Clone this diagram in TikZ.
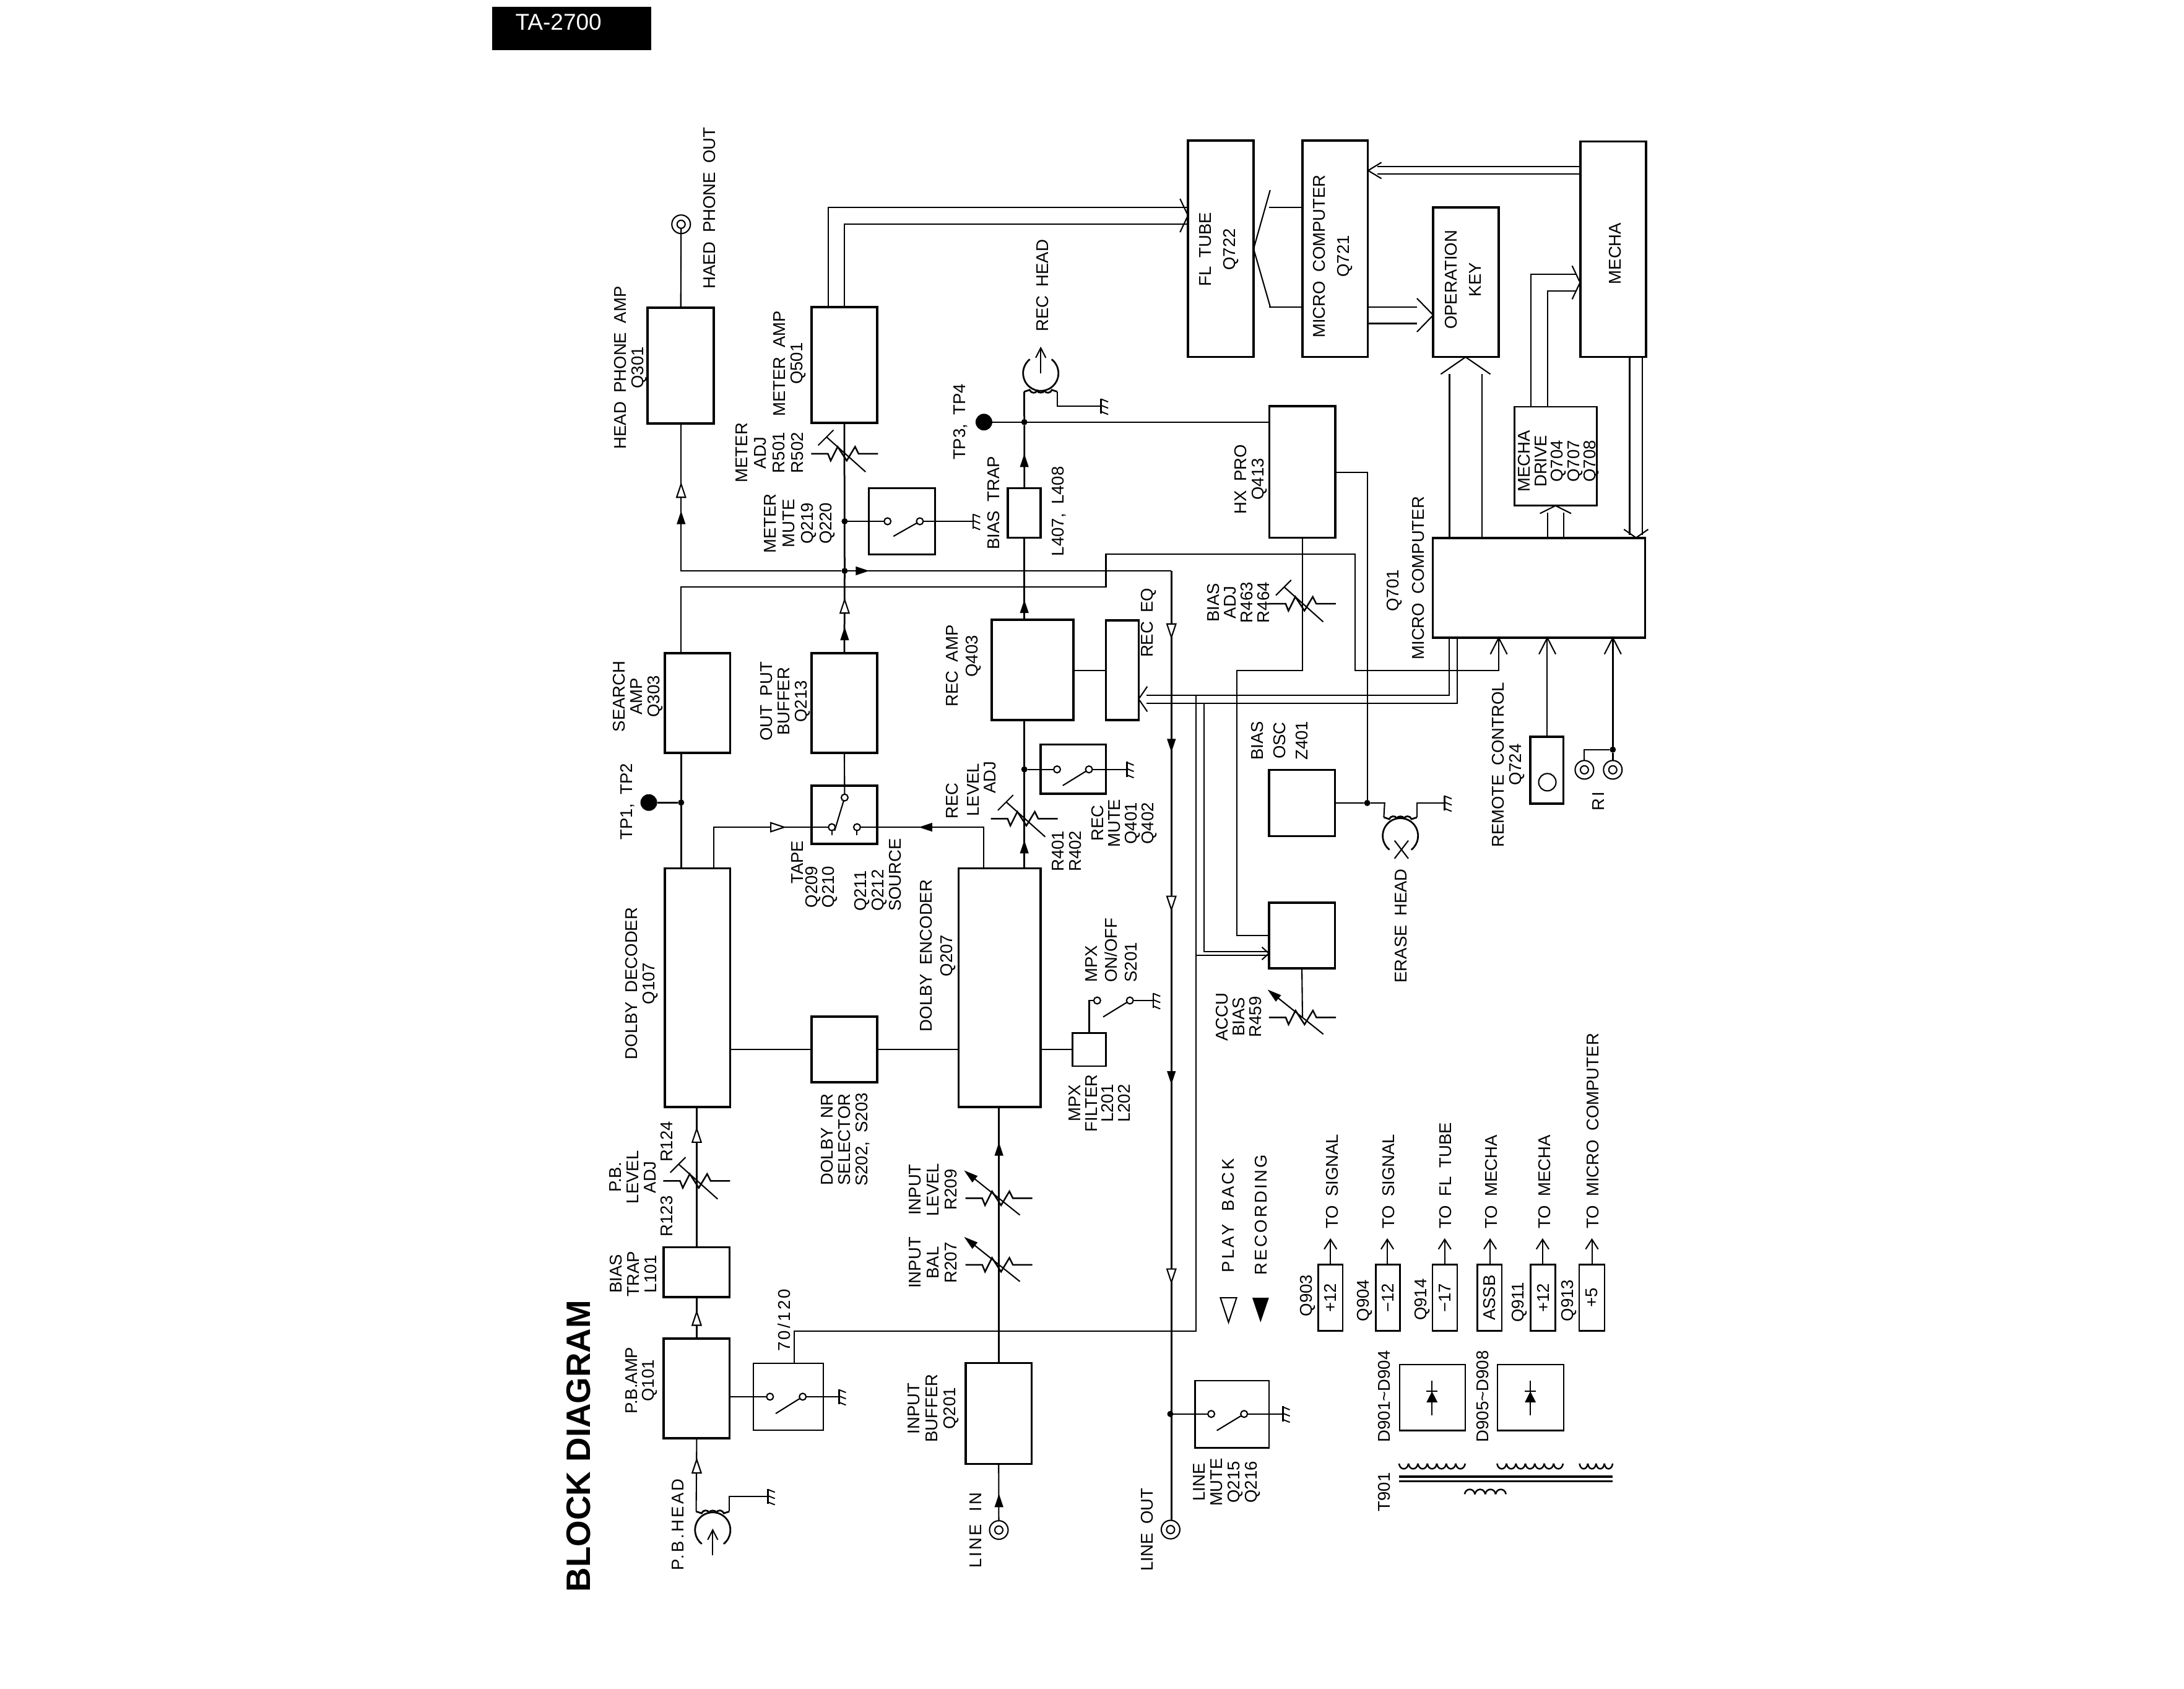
\documentclass[tikz,border=0pt]{standalone}
\usepackage{fontspec}
\setmainfont[WordSpace=1.9]{Liberation Sans}
\newfontfamily\spacedfont[LetterSpace=12,WordSpace=1.9]{Liberation Sans}
\newfontfamily\titlefont{Liberation Sans}
\usetikzlibrary{fit,calc}

% Drawing unit: the sheet is 1568 x 1212 units, y grows downward.
\tikzset{
  wire/.style={line width=0.42pt,line join=miter},
  heavy/.style={line width=0.55pt},
  block/.style={draw,line width=0.72pt,inner sep=0pt,outer sep=0pt},
  thinblock/.style={draw,line width=0.45pt,inner sep=0pt,outer sep=0pt},
  midblock/.style={draw,line width=0.55pt,inner sep=0pt,outer sep=0pt},
  dot/.style={circle,fill=black,inner sep=0pt,minimum size=2pt,outer sep=0pt},
  blob/.style={circle,fill=black,inner sep=0pt,minimum size=5.4pt,outer sep=0pt},
  contact/.style={circle,draw,fill=white,line width=0.42pt,inner sep=0pt,minimum size=2.2pt,outer sep=0pt},
  jackout/.style={circle,draw,line width=0.42pt,inner sep=0pt,minimum size=6pt,outer sep=0pt},
  jackin/.style={circle,draw,line width=0.42pt,inner sep=0pt,minimum size=2.6pt,outer sep=0pt},
  gnd/.pic={
    \draw[line width=0.55pt] (0,-5.5) -- (0,5.5);
    \draw[line width=0.38pt] (0,-5) -- (5,-3) (0,-0.5) -- (5,1.5) (0,4) -- (5,6);
  },
  rtrim/.pic={
    \draw[line width=0.5pt] (-24,0) -- (-12,0) -- (-10,5) -- (-5,-5) -- (1.5,5) -- (7.5,-5) -- (10,0) -- (24,0);
    \draw[wire] (15,13) -- (-13,-12) (-19,-6) -- (-8,-17);
  },
  rarrow/.pic={
    \draw[line width=0.5pt] (-24,0) -- (-12,0) -- (-10,5) -- (-5,-5) -- (1.5,5) -- (7.5,-5) -- (10,0) -- (24,0);
    \draw[wire] (15,12) -- (-20,-16);
    \fill[shift={(-25,-20)},rotate=51] (0,0) -- (3,10) -- (-3,10) -- cycle;
  },
  headsym/.pic={
    \draw[heavy] ([shift={(232:12.7)}]0,0) arc[start angle=232,end angle=-52,radius=12.7];
    \draw[heavy] (-11.9,13.3) -- (-8,12)
      .. controls (-7,14.6) and (-3.5,14.6) .. (-2.7,12.6)
      .. controls (-1.8,14.4) and (1.8,14.4) .. (2.7,12.6)
      .. controls (3.5,14.6) and (7,14.6) .. (8,12) -- (11.9,13.3);
    \coordinate (-a) at (-11.9,13.3);
    \coordinate (-b) at (11.9,13.3);
  }
}

\newcommand\blk[6][block]{\node[#1,fit={(#3,#4)(#5,#6)}] (#2) {};}
\newcommand\lab[5][5.6]{\node[rotate=90,inner sep=0pt,align=center,font=\fontsize{5.5}{#1}\selectfont] (#2) at (#3,#4) {#5};}
\newcommand\labb[5][5.6]{\node[rotate=90,inner sep=0pt,align=left,font=\fontsize{5.5}{#1}\selectfont] (#2) at (#3,#4) {#5};}
\newcommand\tolab[3]{\node[rotate=90,anchor=west,inner sep=0pt,font=\fontsize{5.5}{6}\selectfont] (#1) at (#2,882.6) {#3};}
\newcommand\jack[3]{\node[jackout] (#1) at (#2,#3) {};\node[jackin] (#1i) at (#2,#3) {};}
% open V-shaped arrow head: tip, half width, length, rotation
\newcommand\vhead[5]{\draw[wire,shift={(#1,#2)},rotate=#5] (-#3,#4) -- (0,0) -- (#3,#4);}
% triangular flow marks: tip and rotation
\newcommand\topen[3]{\draw[line width=0.42pt,fill=white,shift={(#1,#2)},rotate=#3] (0,0) -- (-3.2,9.6) -- (3.2,9.6) -- cycle;}
\newcommand\tfull[3]{\fill[shift={(#1,#2)},rotate=#3] (0,0) -- (-3.2,9.6) -- (3.2,9.6) -- cycle;}
% a row of winding turns
\newcommand\wind[5]{\pgfmathsetmacro\wstep{(#2-#1)/#3}\foreach \k in {1,...,#3}{\pgfmathsetmacro\wa{#1+(\k-1)*\wstep}\draw[line width=0.5pt] (\wa,#4) .. controls +(0.1*\wstep,#5) and +(-0.1*\wstep,#5) .. ++(\wstep,0);}}

\begin{document}
\begin{tikzpicture}[x=0.45pt,y=-0.45pt]
\useasboundingbox (0,0) rectangle (1568,1212);
\fill[white] (0,0) rectangle (1568,1212);

% sheet tab and title
\fill[black] (353.3,4.9) rectangle (467.7,36);
\node[text=white,inner sep=0pt,anchor=base west,font=\fontsize{7.4}{8}\selectfont] (tab) at (369.6,21.5) {TA-2700};
\node[rotate=90,inner sep=0pt,font=\titlefont\bfseries\fontsize{10.95}{12}\selectfont] (title) at (415.5,1038) {BLOCK DIAGRAM};

% function blocks
\blk{hpamp}{465}{221}{512.5}{304}
\blk{meter}{582.6}{220.4}{629.8}{303.6}
\blk[midblock]{metermute}{623.7}{350.5}{671.2}{398}
\blk{btrap}{723.5}{350.5}{747.2}{386}
\blk{fl}{852.9}{101}{900}{256.3}
\blk{mc}{935}{101}{982}{256.3}
\blk{opkey}{1029}{148.9}{1076}{256.3}
\blk{mecha}{1134.7}{101.6}{1181.7}{256.3}
\blk{hx}{911.3}{291.5}{958.6}{386}
\blk[midblock]{mdrive}{1087.3}{292}{1146.3}{363}
\blk{cpu}{1028.6}{386.2}{1181.1}{457.8}
\blk{search}{477.3}{468.9}{524.2}{540.5}
\blk{outbuf}{582.6}{468.9}{629.8}{540.5}
\blk{recamp}{712}{444.9}{770.7}{517}
\blk{receq}{794}{445.4}{817.5}{516.8}
\blk{tapesw}{582.6}{563.9}{629.8}{605.9}
\blk{recmute}{747}{534.4}{794}{569.8}
\blk{dec}{477.3}{623.3}{524.2}{794.7}
\blk{enc}{688.3}{623.3}{747}{794.7}
\blk{nr}{582.6}{729.9}{629.8}{777}
\blk[thinblock]{mpx}{770}{741.6}{794}{765.2}
\blk{osc}{911}{552.6}{958.4}{600.2}
\blk{accu}{911}{647.9}{958.4}{695}
\blk{remote}{1098.7}{528.8}{1122.5}{577}
\blk{ltrap}{476.5}{895.4}{523.7}{931}
\blk{pbamp}{476.5}{961}{523.7}{1032.5}
\blk[thinblock]{eqsw}{541}{978.5}{591}{1026.5}
\blk{inbuf}{693.4}{978.5}{740.6}{1050.8}
\blk[thinblock]{linemute}{858}{991}{911}{1039.3}
\blk[midblock]{pa}{946.5}{907.8}{964}{955.4}
\blk[midblock]{pb}{987.6}{907.8}{1005}{955.4}
\blk[midblock]{pc}{1028.4}{907.8}{1046.2}{955.4}
\blk[midblock]{pd}{1060.7}{907.8}{1078.2}{955.4}
\blk[midblock]{pe}{1099}{907.8}{1116.5}{955.4}
\blk[midblock]{pf}{1133.8}{907.8}{1152}{955.4}
\blk[thinblock]{da}{1004.8}{979.5}{1051.9}{1026.9}
\blk[thinblock]{db}{1075.1}{979.5}{1122.5}{1026.9}

% jacks
\jack{hpj}{489}{161}
\jack{linein}{717.1}{1098.3}
\jack{lineout}{840.4}{1098}
\jack{ria}{1137.5}{552.6}
\jack{rib}{1157.9}{552.6}
\node[draw,circle,line width=0.42pt,inner sep=0pt,minimum size=5.6pt] (eye) at (1110.9,561.5) {};

% junctions and test points
\node[dot] (jm) at (606.4,409.8) {};
\node[dot] (jmm) at (606.4,374.2) {};
\node[dot] (jr) at (735.4,303) {};
\node[dot] (jrm) at (735.4,552.3) {};
\node[dot] (jt) at (489,576.1) {};
\node[dot] (jo) at (981.6,576.4) {};
\node[dot] (jl) at (840.2,1015) {};
\node[dot] (jri) at (1157.9,538.1) {};
\node[blob] (tp12) at (465.8,576.1) {};
\node[blob] (tp34) at (706.4,303) {};

% switch contacts
\node[contact] (ma) at (637.2,374.2) {};
\node[contact] (mb) at (660.4,374.2) {};
\node[contact] (ta) at (606.4,572.5) {};
\node[contact] (tb) at (597.2,593.8) {};
\node[contact] (tc) at (615.3,593.8) {};
\node[contact] (ra) at (758.9,552.3) {};
\node[contact] (rb) at (781.8,552.3) {};
\node[contact] (xa) at (787.7,718.2) {};
\node[contact] (xb) at (811.2,718.2) {};
\node[contact] (ea) at (552.8,1002.6) {};
\node[contact] (eb) at (576.3,1002.6) {};
\node[contact] (la) at (869.6,1015) {};
\node[contact] (lb) at (893.2,1015) {};

% ground points
\foreach \nm/\gx/\gy in {gm/698.7/374.2,gh/790.6/291.5,gr/809/552.3,gx/828/718.2,ge/1037.2/576.4,gp/551.3/1074.2,gs/602.3/1002.6,gl/921/1015}{
  \coordinate (\nm) at (\gx,\gy);
  \pic at (\nm) {gnd};
}

% tape heads
\pic (rh) at (747.2,267.9) {headsym};
\pic[rotate=180] (ph) at (511.7,1098.3) {headsym};
\pic[rotate=180] (eh) at (1005.4,600) {headsym};
\coordinate (rharrow) at (747.2,267.9);
\draw[wire] (rharrow) -- ++(0,-18);
\vhead{747.2}{249.8}{3.6}{7}{0}
\coordinate (pharrow) at (511.7,1116.4);
\draw[wire] (pharrow) -- ++(0,-18);
\vhead{511.7}{1098.3}{3.6}{7}{0}
\draw[wire] (1001.2,603.4) -- (1011.1,616.3) (1011.1,603.4) -- (1001.2,616.3);

% headphone and meter paths
\draw[wire] (hpji) -- (hpamp.north);
\draw[wire] (hpamp.south) |- (jm) -- (jm -| 841,0) coordinate (busout);
\draw[heavy] (meter.south) -- (jm) -- (outbuf.north);
\draw[wire] (jmm) -- (ma);
\draw[wire] (mb) -- (gm);
\draw[wire] (mb) -- ++(-19,10.8);
\pic at (606.4,325.7) {rtrim};
\draw[wire] (594.6,0 |- meter.north) |- (fl.west |- 0,148.9);
\draw[wire] (meter.north) |- (fl.west |- 0,160.9);
\vhead{852.9}{154.7}{12}{5.7}{-90}

% record path
\draw[heavy] (enc.north -| 735.4,0) -- (735.4,0 |- recamp.south);
\draw[heavy] (735.4,0 |- recamp.north) -- (735.4,0 |- btrap.south);
\draw[heavy] (735.4,0 |- btrap.north) -- (jr) -- (rh-a);
\draw[wire] (rh-b) |- (gh);
\draw[wire] (tp34) -- (hx.west |- tp34);
\draw[wire] (jrm) -- (ra);
\draw[wire] (rb) -- (gr);
\draw[wire] (rb) -- ++(-18.8,11.6);
\pic at (735.4,587.7) {rtrim};
\draw[wire] (recamp.east |- 0,481.4) -- (receq.west |- 0,481.4);

% tape / source selection
\draw[wire] (outbuf.south) -- (ta);
\draw[wire] (ta) -- (599.2,596.3);
\draw[wire] (512.5,0 |- dec.north) |- (tb);
\draw[wire] (706.1,0 |- enc.north) |- (tc);
\draw[wire] (tb) -- ++(0,5.7);
\draw[wire] (tc) -- ++(0,5.7);
\draw[heavy] (489,0 |- search.south) -- (489,0 |- dec.north);
\draw[heavy] (jt) -- (tp12);

% search signal to the micro computer
\draw[wire] (489,0 |- search.north) |- (794,421.4) |- (973,397.8) |- (1076,481.4) -- (1076,0 |- cpu.south);
\vhead{1076}{457.8}{6}{11.8}{0}

% Dolby section
\draw[wire] (dec.east |- nr.west) -- (nr.west);
\draw[wire] (nr.east) -- (enc.west |- nr.east);
\draw[wire] (enc.east |- mpx.west) -- (mpx.west);
\draw[wire] (782,0 |- mpx.north) |- (xa);
\draw[wire] (xb) -- (gx);
\draw[wire] (xb) -- ++(-19.2,11.8);

% playback input path
\draw[wire] (ph-b) -- (500.2,0 |- pbamp.south);
\draw[wire] (ph-a) |- (gp);
\draw[wire] (500.2,0 |- pbamp.north) -- (500.2,0 |- ltrap.south);
\draw[heavy] (500.2,0 |- ltrap.north) -- (500.2,0 |- dec.south);
\pic at (500.2,847.7) {rtrim};
\draw[wire] (pbamp.east |- ea) -- (ea);
\draw[wire] (eb) -- (gs);
\draw[wire] (eb) -- ++(-19.4,12.1);

% line input path
\draw[wire] (linein) -- (inbuf.south);
\draw[wire] (717.1,0 |- inbuf.north) -- (717.1,0 |- enc.south);
\pic at (717.2,860.2) {rarrow};
\pic at (717.2,907.9) {rarrow};

% line output and control buses
\draw[heavy] (busout) -- (841,0 |- lineout.north);
\draw[wire] (jl) -- (la);
\draw[wire] (lb) -- (gl);
\draw[wire] (lb) -- ++(-19.6,11.9);
\draw[wire] (570.4,0 |- eqsw.north) |- (858.6,955.4) -- (858.6,499);
\draw[wire] (1040.5,0 |- cpu.south) |- (823,499);
\draw[wire] (1046.2,0 |- cpu.south) |- (823,505);
\vhead{817.5}{501.8}{9}{6.2}{90}
\draw[wire] (858.6,685.7) -- (accu.west |- 0,685.7);
\draw[wire] (864.3,505) |- (accu.west |- 0,683);
\vhead{911}{684.4}{4.5}{5}{-90}
\draw[wire] (hx.south) |- (887.8,481.4) |- (accu.west |- 0,671.4);
\draw[wire] (accu.south) -- (935.1,730.4);
\pic at (935.1,730.4) {rarrow};
\pic at (935,433.4) {rtrim};
\draw[wire] (hx.east |- 0,339.2) -| (jo);
\draw[wire] (osc.east |- jo) -- (jo) -- (994.1,576.4) -- (eh-b);
\draw[wire] (eh-a) |- (ge);

% panel and mechanism control
\draw[wire] (fl.east) ++(11.9,-42.2) -- (fl.east) -- ++(11.9,41.4);
\draw[wire] (mc.west |- 0,148.9) -- (911,148.9);
\draw[wire] (mc.west |- 0,220.4) -- (911,220.4);
\draw[wire] (mc.east |- 0,220.4) -- (1017.3,220.4);
\draw[wire] (mc.east |- 0,232.2) -- (1017.3,232.2);
\vhead{1029}{226.2}{12}{11.7}{-90}
\draw[wire] (mecha.west |- 0,119.5) -- (989,119.5);
\draw[wire] (mecha.west |- 0,125) -- (989,125);
\vhead{982.2}{122.4}{5.8}{9.6}{90}
\draw[heavy] (1040.5,0 |- cpu.north) -- (1040.5,268.6);
\draw[heavy] (1064,0 |- cpu.north) -- (1064,268.6);
\vhead{1052.2}{256.3}{17.8}{12.3}{0}
\draw[wire] (1099.2,0 |- mdrive.north) |- (1132,197);
\draw[wire] (1111.1,0 |- mdrive.north) |- (1132,208.9);
\vhead{1134.4}{202.8}{12}{5.7}{-90}
\draw[wire] (1111.1,0 |- cpu.north) -- (1111.1,368);
\draw[wire] (1122.8,0 |- cpu.north) -- (1122.8,368);
\vhead{1116.8}{363}{11.2}{5.6}{0}
\draw[heavy] (1170.1,0 |- mecha.south) -- (1170.1,384);
\draw[wire] (1179.2,0 |- mecha.south) -- (1179.2,384);
\vhead{1174.6}{386}{8.7}{6}{180}
\draw[heavy] (remote.north) -- (remote.north |- cpu.south);
\vhead{1110.9}{457.8}{6}{11.8}{0}
\draw[heavy] (rib) -- (jri) -- (jri |- cpu.south);
\vhead{1157.9}{457.8}{6}{11.8}{0}
\draw[wire] (jri) -| (ria);

% power supply outputs
\foreach \src/\ax in {pa/955.2,pb/996,pc/1037.2,pd/1069.8,pe/1107.5,pf/1142.9}{
  \draw[wire] (\ax,0 |- \src.north) -- (\ax,889.7);
  \vhead{\ax}{889.7}{4.5}{7}{0}
}

% diode groups
\foreach \cx/\dn in {1028.1/da,1098.7/db}{
  \draw[wire] (\cx,990.9) -- (\cx,1015.8);
  \fill (\cx,998.8) -- (\cx-4,1006.7) -- (\cx+4,1006.7) -- cycle;
  \draw[wire] (\cx-4,998.8) -- (\cx+4,998.8);
}

% mains transformer
\draw[line width=0.72pt] (1004.5,1060) -- (1157.8,1060);
\draw[line width=0.72pt] (1004.5,1063.3) -- (1157.8,1063.3);
\wind{1004.4}{1051.9}{7}{1050.6}{5}
\wind{1074.8}{1122.2}{7}{1050.6}{5}
\wind{1134}{1157.8}{4}{1050.6}{5}
\wind{1051.5}{1081.2}{4}{1072.6}{-4.6}

% signal flow marks
\topen{489}{347.4}{0}
\tfull{489}{366.7}{0}
\tfull{624}{409.8}{-90}
\topen{606.4}{430.5}{0}
\tfull{606.4}{450}{0}
\tfull{735.4}{325.7}{0}
\tfull{735.4}{430.5}{0}
\tfull{735.4}{603}{0}
\topen{563}{593.8}{-90}
\tfull{659.7}{593.8}{90}
\topen{500.2}{810.3}{0}
\topen{500.2}{941.7}{0}
\topen{500.2}{1047.7}{0}
\tfull{717.2}{820}{0}
\tfull{717.2}{1072.3}{0}
\topen{841}{457.5}{180}
\tfull{841}{540}{180}
\topen{841}{653}{180}
\tfull{841}{778.5}{180}
\topen{841}{920.5}{180}

% legend
\draw[line width=0.42pt] (882,949.2) -- (876.2,931.6) -- (887.8,931.6) -- cycle;
\fill (905,949.2) -- (899.1,931.6) -- (911,931.6) -- cycle;
\lab{playback}{881.8}{872.6}{\spacedfont PLAY BACK}
\lab{recording}{905.3}{872}{\spacedfont RECORDING}

% component labels
\lab{t1}{509.4}{149.4}{HAED PHONE OUT}
\lab{t2}{452.5}{264}{HEAD PHONE AMP\\Q301}
\lab{t3}{567}{261}{METER AMP\\Q501}
\lab{t4}{748.5}{205}{REC HEAD}
\lab{t5}{689.5}{302.8}{TP3, TP4}
\lab[6]{t6}{552.4}{325}{METER\\ADJ\\R501\\R502}
\lab[6]{t7}{574}{375.7}{METER\\MUTE\\Q219\\Q220}
\lab{t8}{713.3}{361}{BIAS TRAP}
\lab{t9}{760.5}{367}{L407, L408}
\lab[7.8]{t10}{875}{179}{FL TUBE\\Q722}
\lab[7.8]{t11}{957}{184}{MICRO COMPUTER\\Q721}
\lab[7.8]{t12}{1050.6}{200.8}{OPERATION\\KEY}
\lab{t13}{1159.6}{182}{MECHA}
\lab{t14}{898}{344}{HX PRO\\Q413}
\lab[5.3]{t15}{1119}{331}{MECHA\\DRIVE\\Q704\\Q707\\Q708}
\lab{t16}{1001.2}{424}{Q701}
\lab{t17}{1018.2}{415}{MICRO COMPUTER}
\lab{t18}{824.6}{447}{REC EQ}
\lab[5.4]{t19}{889}{432.5}{BIAS\\ADJ\\R463\\R464}
\lab[7.2]{t20}{918.5}{531.6}{BIAS\\OSC\\Z401}
\lab{t21}{1082.7}{549}{REMOTE CONTROL\\Q724}
\lab{t22}{1147.7}{575}{\spacedfont RI}
\lab{t23}{1006}{664.6}{ERASE HEAD}
\lab[5.4]{t24}{807}{591}{REC\\MUTE\\Q401\\Q402}
\labb[6.4]{t25}{798}{682}{MPX\\ON/OFF\\S201}
\lab[5.4]{t26}{889.5}{730}{ACCU\\BIAS\\R459}
\lab[5.3]{t27}{789.5}{792}{MPX\\FILTER\\L201\\L202}
\lab[6.7]{t28}{673.4}{686}{DOLBY ENCODER\\Q207}
\lab{t29}{460.7}{706}{DOLBY DECODER\\Q107}
\lab{t30}{572.4}{619}{TAPE}
\lab{t31}{583.7}{636.6}{Q209}
\lab{t32}{595.9}{636.6}{Q210}
\labb{t33}{630.4}{628}{Q211\\Q212\\SOURCE}
\lab{t34}{683.4}{575}{REC}
\lab{t35}{698.7}{567}{LEVEL}
\lab{t36}{710.7}{558}{ADJ}
\lab{t37}{766}{611}{R401\\R402}
\lab{t38}{683.4}{478}{REC AMP}
\lab{t39}{698.7}{471}{Q403}
\lab{t40}{458}{500}{SEARCH\\AMP\\Q303}
\lab{t41}{563.7}{503.5}{OUT PUT\\BUFFER\\Q213}
\lab{t42}{450.5}{575.4}{TP1, TP2}
\lab{t43}{607}{818}{DOLBY NR\\SELECTOR\\S202, S203}
\lab{t44}{454.5}{845}{P.B.\\LEVEL\\ADJ}
\lab{t45}{478.6}{819.6}{R124}
\lab{t46}{478.6}{873}{R123}
\lab{t47}{454.5}{914.5}{BIAS\\TRAP\\L101}
\lab{t48}{460.5}{991}{P.B.AMP\\Q101}
\lab{t49}{562.8}{947.7}{\spacedfont 70/120}
\lab[5.8]{t50}{670}{1011}{INPUT\\BUFFER\\Q201}
\lab{t51}{700.5}{1098.5}{\spacedfont LINE IN}
\lab{t52}{486.7}{1094.3}{\spacedfont P.B.HEAD}
\lab[5.8]{t53}{670}{854}{INPUT\\LEVEL\\R209}
\lab[5.8]{t54}{670}{906.4}{INPUT\\BAL\\R207}
\lab{t55}{823.7}{1098}{LINE OUT}
\lab[5.6]{t56}{880.8}{1064}{LINE\\MUTE\\Q215\\Q216}
\lab{t57}{938.8}{930}{Q903}
\lab{t58}{979.6}{933.5}{Q904}
\lab{t59}{1021}{933}{Q914}
\lab{t60}{1091}{934.8}{Q911}
\lab{t61}{1126.4}{933.5}{Q913}
\lab{t62}{955.2}{931.6}{+12}
\lab{t63}{996.3}{931.6}{−12}
\lab{t64}{1037.3}{931.6}{−17}
\lab{t65}{1069.5}{931.6}{ASSB}
\lab{t66}{1107.8}{931.6}{+12}
\lab{t67}{1142.9}{931.6}{+5}
\lab{t68}{994}{1002.4}{D901\textasciitilde D904}
\lab{t69}{1064.6}{1002.4}{D905\textasciitilde D908}
\lab{t70}{994}{1071}{T901}
\tolab{s1}{956.4}{TO SIGNAL}
\tolab{s2}{997}{TO SIGNAL}
\tolab{s3}{1037.8}{TO FL TUBE}
\tolab{s4}{1070.8}{TO MECHA}
\tolab{s5}{1109}{TO MECHA}
\tolab{s6}{1143.5}{TO MICRO COMPUTER}
\end{tikzpicture}
\end{document}
